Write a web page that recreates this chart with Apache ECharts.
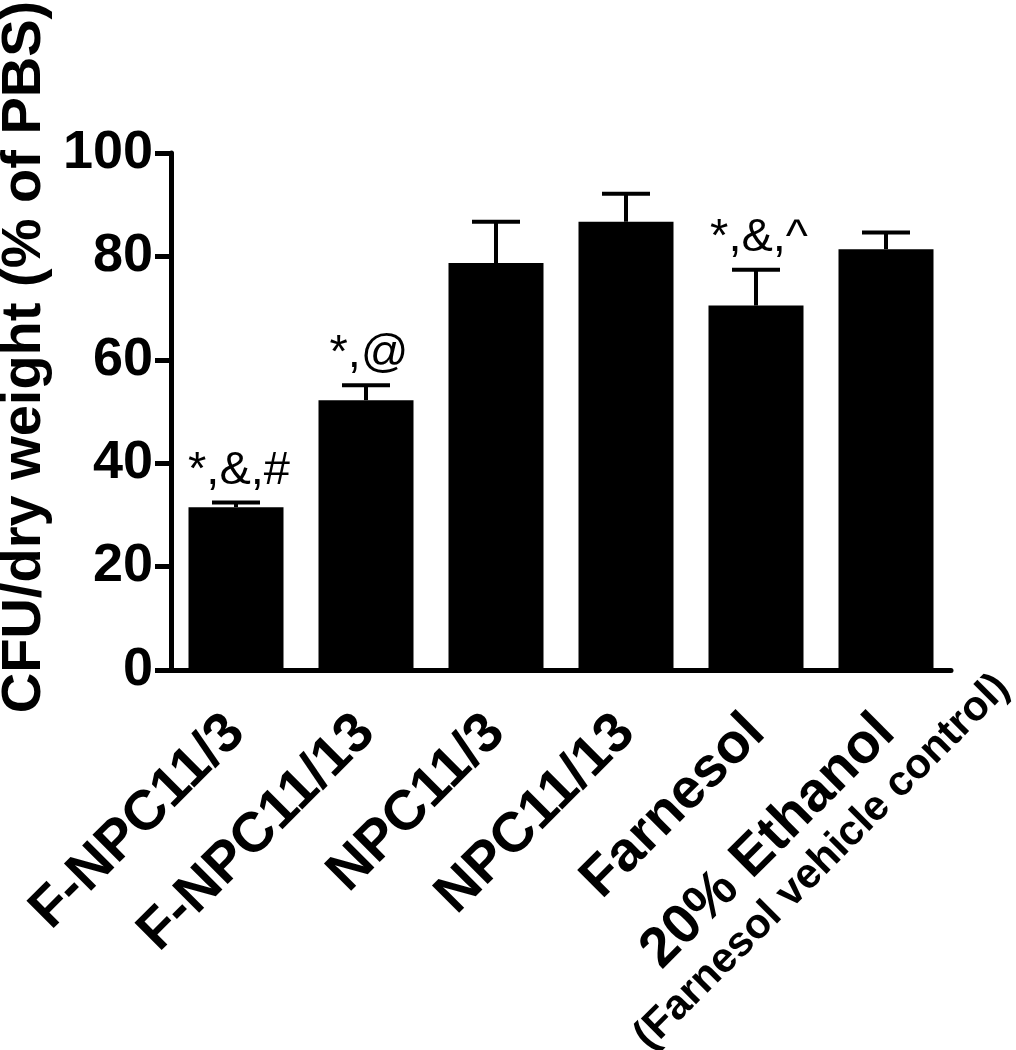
<!DOCTYPE html>
<html>
<head>
<meta charset="utf-8">
<script src="https://cdn.jsdelivr.net/npm/echarts@6/dist/echarts.min.js"></script>
<style>
  html, body { margin: 0; padding: 0; background: #fff; }
  #cfu-chart { width: 1016px; height: 1050px; }
</style>
</head>
<body>
<div id="cfu-chart"></div>
<script>
const groups = ['F-NPC11/3', 'F-NPC11/13', 'NPC11/3', 'NPC11/13', 'Farnesol', '20% Ethanol'];
const means = [31.5, 52.2, 78.7, 86.7, 70.5, 81.4];
const errors = [0.9, 2.9, 8.0, 5.4, 6.9, 3.2];
const marks = ['*,&,#', '*,@', '', '', '*,&,^', ''];
const yTicks = [0, 20, 40, 60, 80, 100];
const subCaption = '(Farnesol vehicle control)';

const FONT = '"Liberation Sans", Arial, Helvetica, sans-serif';

const chart = echarts.init(document.getElementById('cfu-chart'));

const option = {
  animation: false,
  grid: {
    left: 171,
    top: 153,
    width: 780,
    height: 517,
  },
  xAxis: {
    type: 'category',
    data: groups,
    axisLine: { lineStyle: { color: '#000', width: 5 } },
    axisTick: { alignWithLabel: true, length: 15, lineStyle: { color: '#000', width: 5 } },
    axisLabel: {
      interval: 0,
      rotate: 45,
      margin: 54,
      color: '#000',
      fontFamily: FONT,
      fontWeight: 'bold',
      fontSize: 56,
    },
  },
  yAxis: {
    type: 'value',
    min: yTicks[0],
    max: yTicks[yTicks.length - 1],
    interval: 20,
    splitLine: { show: false },
    axisLine: { show: true, lineStyle: { color: '#000', width: 5 } },
    axisTick: { show: true, length: 16, lineStyle: { color: '#000', width: 5 } },
    axisLabel: {
      margin: 18,
      color: '#000',
      fontFamily: FONT,
      fontWeight: 'bold',
      fontSize: 54,
    },
  },
  series: [
    {
      name: 'CFU',
      type: 'bar',
      data: means,
      barWidth: 95,
      itemStyle: { color: '#000' },
      z: 2,
    },
    {
      // upper error bar + significance marks
      name: 'SEM',
      type: 'custom',
      z: 3,
      data: means.map((m, i) => [i, m, m + errors[i], marks[i]]),
      renderItem: (params, api) => {
        const top = api.coord([api.value(0), api.value(1)]);
        const cap = api.coord([api.value(0), api.value(2)]);
        const half = 24;
        const lineStyle = { stroke: '#000', lineWidth: 4 };
        const children = [
          { type: 'line', shape: { x1: cap[0], y1: top[1], x2: cap[0], y2: cap[1] }, style: lineStyle },
          { type: 'line', shape: { x1: cap[0] - half, y1: cap[1], x2: cap[0] + half, y2: cap[1] }, style: lineStyle },
        ];
        const mark = marks[params.dataIndex];
        if (mark) {
          children.push({
            type: 'text',
            x: cap[0] + 3,
            y: cap[1] - 8,
            style: {
              text: mark,
              fill: '#000',
              font: '47px ' + FONT,
              align: 'center',
              verticalAlign: 'bottom',
            },
          });
        }
        return { type: 'group', children };
      },
    },
  ],
};
chart.setOption(option);

// y axis title and second line of last category label
const last = chart.convertToPixel({ xAxisIndex: 0 }, groups[groups.length - 1]);
const base = chart.convertToPixel({ yAxisIndex: 0 }, 0);
chart.setOption({
  graphic: [
    {
      type: 'text',
      x: 25,
      y: 357,
      rotation: Math.PI / 2,
      style: {
        text: 'CFU/dry weight (% of PBS)',
        fill: '#000',
        font: 'bold 56px ' + FONT,
        align: 'center',
        verticalAlign: 'middle',
      },
    },
    {
      type: 'text',
      x: last - 64,
      y: base + 192,
      rotation: Math.PI / 4,
      style: {
        text: subCaption,
        fill: '#000',
        font: 'bold 42px ' + FONT,
        align: 'center',
        verticalAlign: 'middle',
      },
    },
  ],
});
</script>
</body>
</html>
